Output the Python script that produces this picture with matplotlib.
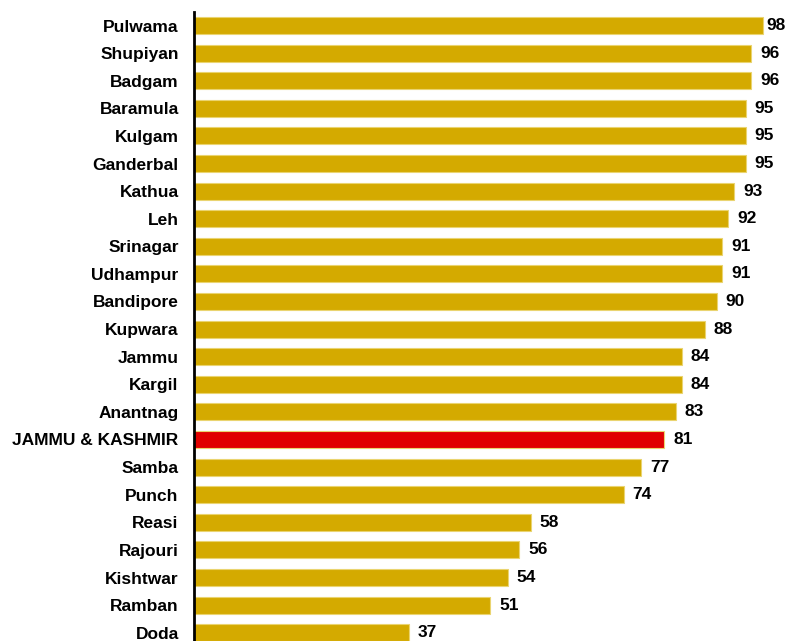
import matplotlib
matplotlib.use("Agg")
import matplotlib.pyplot as plt

districts = ["Pulwama", "Shupiyan", "Badgam", "Baramula", "Kulgam", "Ganderbal",
             "Kathua", "Leh", "Srinagar", "Udhampur", "Bandipore", "Kupwara",
             "Jammu", "Kargil", "Anantnag", "JAMMU & KASHMIR", "Samba", "Punch",
             "Reasi", "Rajouri", "Kishtwar", "Ramban", "Doda"]
values = [98, 96, 96, 95, 95, 95, 93, 92, 91, 91, 90, 88, 84, 84, 83, 81, 77, 74,
          58, 56, 54, 51, 37]
highlight = "JAMMU & KASHMIR"

plt.rcParams['font.family'] = ['Liberation Sans', 'DejaVu Sans']

W, H = 788, 641
fig = plt.figure(figsize=(W / 100, H / 100), dpi=100)
ax = fig.add_axes([194 / W, -5.5 / H, 1 - 194 / W, 634.8 / H])

colors = ['#E00000' if d == highlight else '#D4AA00' for d in districts]
ypos = list(range(len(districts)))
ax.barh(ypos, values, height=0.62, color=colors, edgecolor='#EAD470', linewidth=0.8)

ax.set_yticks(ypos)
ax.set_yticklabels(districts, fontsize=12.5, fontweight='bold')
ax.tick_params(axis='y', length=0, pad=11)
ax.set_ylim(len(districts) - 0.5, -0.5)
ax.set_xlim(0, 102.3)
ax.set_xticks([])
for s in ['top', 'right', 'bottom']:
    ax.spines[s].set_visible(False)
ax.spines['left'].set_linewidth(2)
ax.spines['left'].set_color('black')

texts = []
for y, v in zip(ypos, values):
    t = ax.annotate(str(v), (v, y), xytext=(6.5, 0), textcoords='offset points',
                    va='center', ha='left', fontsize=12.5, fontweight='bold',
                    color='black', annotation_clip=False)
    texts.append(t)

fig.canvas.draw()
renderer = fig.canvas.get_renderer()
for t in texts:
    bb = t.get_window_extent(renderer)
    if bb.x1 > W - 2:
        shift_pts = (bb.x1 - (W - 2)) * 72 / 100
        x0, y0 = t.xyann
        t.xyann = (x0 - shift_pts, y0)

fig.savefig("out.png", dpi=100)
